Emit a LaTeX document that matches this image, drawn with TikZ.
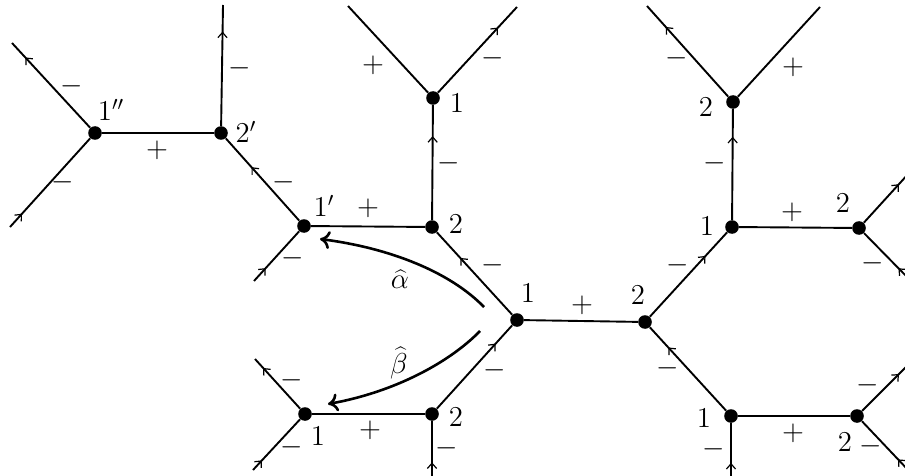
\documentclass[tikz,border=0pt]{standalone}
\usetikzlibrary{arrows.meta,decorations.markings}
\begin{document}
\begin{tikzpicture}[x=0.5pt,y=-0.5pt,
  edge/.style={line width=0.95pt},
  vtx/.style={circle,fill,inner sep=0pt,minimum size=6.8pt},
  arr/.style={postaction={decorate},decoration={markings,mark=at position #1 with {\arrow{Straight Barb[length=2.6pt,width=4.6pt,line width=0.6pt]}}}},
  lab/.style={font=\fontsize{14}{16}\selectfont, inner sep=0pt},
  sgn/.style={font=\fontsize{15}{17}\selectfont, inner sep=0pt},
  bendarrow/.style={line width=1.3pt,-{Computer Modern Rightarrow[length=5pt,width=9pt]}}
]
\useasboundingbox (0,0) rectangle (905,476);
\clip (0,0) rectangle (905,476);
% vertices
\node[vtx] (A) at (95,133) {};
\node[vtx] (B) at (221,133) {};
\node[vtx] (C) at (304,226) {};
\node[vtx] (D) at (432,227) {};
\node[vtx] (E) at (433,98) {};
\node[vtx] (F) at (517,320) {};
\node[vtx] (G) at (645,322) {};
\node[vtx] (H) at (733,102) {};
\node[vtx] (I) at (732,227) {};
\node[vtx] (J) at (859,228) {};
\node[vtx] (K) at (432,414) {};
\node[vtx] (L) at (305,414) {};
\node[vtx] (M) at (731,416) {};
\node[vtx] (N) at (857,416) {};
% free ends
\coordinate (A1) at (12,43);
\coordinate (A2) at (10,227);
\coordinate (B1) at (223,5);
\coordinate (C1) at (254,281);
\coordinate (E1) at (348,6);
\coordinate (E2) at (517,7);
\coordinate (H1) at (647,6);
\coordinate (H2) at (820,7);
\coordinate (J1) at (910,172);
\coordinate (J2) at (910,280);
\coordinate (N1) at (910,363);
\coordinate (N2) at (910,472);
\coordinate (K1) at (432,480);
\coordinate (M1) at (731,480);
\coordinate (L1) at (255,359);
\coordinate (L2) at (253,470);
% plain edges
\draw[edge] (A) -- (B);
\draw[edge] (C) -- (D);
\draw[edge] (E) -- (E1);
\draw[edge] (F) -- (G);
\draw[edge] (K) -- (L);
\draw[edge] (I) -- (J);
\draw[edge] (H) -- (H2);
\draw[edge] (M) -- (N);
% oriented edges
\draw[edge,arr=0.15] (A2) -- (A);
\draw[edge,arr=0.83] (A) -- (A1);
\draw[edge,arr=0.65] (C) -- (B);
\draw[edge,arr=0.78] (B) -- (B1);
\draw[edge,arr=0.26] (C1) -- (C);
\draw[edge,arr=0.69] (F) -- (D);
\draw[edge,arr=0.73] (D) -- (E);
\draw[edge,arr=0.76] (E) -- (E2);
\draw[edge,arr=0.78] (K) -- (F);
\draw[edge,arr=0.30] (K1) -- (K);
\draw[edge,arr=0.82] (L) -- (L1);
\draw[edge,arr=0.19] (L2) -- (L);
\draw[edge,arr=0.76] (M) -- (G);
\draw[edge,arr=0.72] (G) -- (I);
\draw[edge,arr=0.75] (I) -- (H);
\draw[edge,arr=0.77] (H) -- (H1);
\draw[edge,arr=0.30] (M1) -- (M);
\draw[edge,arr=0.76] (J) -- (J1);
\draw[edge,arr=0.25] (J2) -- (J);
\draw[edge,arr=0.77] (N) -- (N1);
\draw[edge,arr=0.25] (N2) -- (N);
% vertex labels
\node[lab] (lA) at (111,110) {$1''$};
\node[lab] (lB) at (246,132) {$2'$};
\node[lab] (lC) at (324,206) {$1'$};
\node[lab] (lD) at (456,224) {$2$};
\node[lab] (lE) at (457,103) {$1$};
\node[lab] (lF) at (528,293) {$1$};
\node[lab] (lG) at (638,295) {$2$};
\node[lab] (lH) at (706,107) {$2$};
\node[lab] (lI) at (707,226) {$1$};
\node[lab] (lJ) at (843,203) {$2$};
\node[lab] (lK) at (456,417) {$2$};
\node[lab] (lL) at (318,436) {$1$};
\node[lab] (lM) at (704,418) {$1$};
\node[lab] (lN) at (845,442) {$2$};
% signs
\node[sgn] (s1) at (157,150) {$+$};
\node[sgn] (s2) at (72,86) {$-$};
\node[sgn] (s3) at (63,182) {$-$};
\node[sgn] (s4) at (240,68) {$-$};
\node[sgn] (s5) at (284,182) {$-$};
\node[sgn] (s6) at (368,208) {$+$};
\node[sgn] (s7) at (293,258) {$-$};
\node[sgn] (s8) at (449,163) {$-$};
\node[sgn] (s9) at (373,65) {$+$};
\node[sgn] (s10) at (493,58) {$-$};
\node[sgn] (s11) at (493,265) {$-$};
\node[sgn] (s12) at (582,305) {$+$};
\node[sgn] (s13) at (495,370) {$-$};
\node[sgn] (s14) at (370,430) {$+$};
\node[sgn] (s15) at (447,448) {$-$};
\node[sgn] (s16) at (292,380) {$-$};
\node[sgn] (s17) at (292,447) {$-$};
\node[sgn] (s18) at (678,265) {$-$};
\node[sgn] (s19) at (668,368) {$-$};
\node[sgn] (s20) at (714,449) {$-$};
\node[sgn] (s21) at (793,433) {$+$};
\node[sgn] (s22) at (871,446) {$-$};
\node[sgn] (s23) at (868,385) {$-$};
\node[sgn] (s24) at (792,212) {$+$};
\node[sgn] (s25) at (873,263) {$-$};
\node[sgn] (s26) at (677,58) {$-$};
\node[sgn] (s27) at (793,67) {$+$};
\node[sgn] (s28) at (715,163) {$-$};
% curved arrows
\coordinate (a0) at (484,307);
\coordinate (a1) at (320,239);
\draw[bendarrow] (a0) .. controls (450,272) and (390,248) .. (a1);
\coordinate (b0) at (480,331);
\coordinate (b1) at (328,404);
\draw[bendarrow] (b0) .. controls (450,362) and (395,392) .. (b1);
\node[lab] (alpha) at (400,279) {$\widehat{\alpha}$};
\node[lab] (beta) at (399,363) {$\widehat{\beta}$};
\end{tikzpicture}
\end{document}
